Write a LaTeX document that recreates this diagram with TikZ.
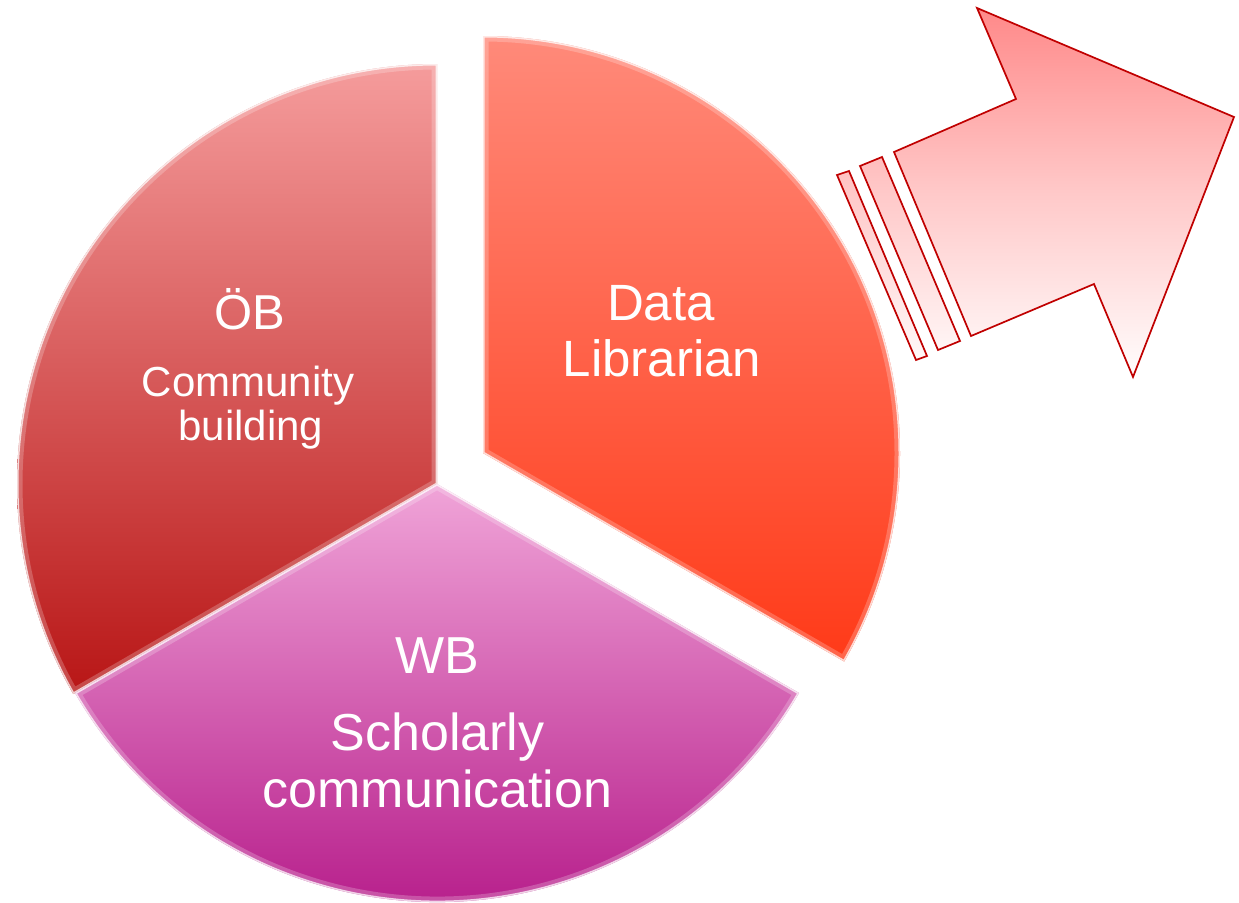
\documentclass[tikz,border=0pt]{standalone}
\usepackage{fontspec}
\setmainfont{Liberation Sans}
\definecolor{obTop}{HTML}{F59C9C}
\definecolor{obBot}{HTML}{B81616}
\definecolor{wbTop}{HTML}{F0A4D8}
\definecolor{wbBot}{HTML}{B00E82}
\definecolor{dlTop}{HTML}{FF8A7A}
\definecolor{dlBot}{HTML}{FF3A18}
\definecolor{arrTop}{HTML}{FF8686}
\definecolor{arrLine}{HTML}{C00000}
\begin{document}
\begin{tikzpicture}[x=1pt,y=-1pt,
  lbl/.style={text=white, anchor=base, inner sep=0pt},
  glowwide/.style={draw=white, opacity=0.22, line width=11pt},
  glowthin/.style={draw=white, opacity=0.75, line width=3pt},
  shadowfill/.style={fill=black, opacity=0.10},
  arrowline/.style={draw=arrLine, line width=1.7pt, line join=miter},
]
\useasboundingbox (0,0) rectangle (1239,902);
\coordinate (C) at (437,484);
\coordinate (D) at (483,453);
\def\pOB{(C) -- ([shift={(-90:420)}]C) arc[start angle=-90,end angle=-210,radius=420] -- cycle}
\def\pWB{(C) -- ([shift={(150:418)}]C) arc[start angle=150,end angle=30,radius=418] -- cycle}
\def\pDL{(D) -- ([shift={(-90:417)}]D) arc[start angle=-90,end angle=30,radius=417] -- cycle}

% shadows
\begin{scope}[shift={(3,4)}]
  \fill[shadowfill] \pOB;
  \fill[shadowfill] \pWB;
  \fill[shadowfill] \pDL;
\end{scope}

% segments
\shade[top color=obTop, bottom color=obBot] \pOB;
\begin{scope}\clip \pOB; \draw[glowwide] \pOB; \draw[glowthin] \pOB; \end{scope}
\shade[top color=wbTop, bottom color=wbBot] \pWB;
\begin{scope}\clip \pWB; \draw[glowwide] \pWB; \draw[glowthin] \pWB; \end{scope}
\shade[top color=dlTop, bottom color=dlBot] \pDL;
\begin{scope}\clip \pDL; \draw[glowwide] \pDL; \draw[glowthin] \pDL; \end{scope}

% labels
\node[lbl, font=\fontsize{49}{54}\selectfont] (ob) at (250,329) {ÖB};
\node[lbl, font=\fontsize{42}{46}\selectfont] (cb1) at (248,396) {Community};
\node[lbl, font=\fontsize{42}{46}\selectfont] (cb2) at (251,440) {building};
\node[lbl, font=\fontsize{51}{56}\selectfont] (dl1) at (661,320) {Data};
\node[lbl, font=\fontsize{51}{56}\selectfont] (dl2) at (662,376) {Librarian};
\node[lbl, font=\fontsize{52}{57}\selectfont] (wb) at (437,673) {WB};
\node[lbl, font=\fontsize{52}{57}\selectfont] (sc1) at (437.5,750) {Scholarly};
\node[lbl, font=\fontsize{52}{57}\selectfont] (sc2) at (437.5,807) {communication};

% striped arrow
\def\pArrow{(894,152) -- (1016,99) -- (977,8) -- (1234,117) -- (1133,377) -- (1094,284) -- (971,336) -- cycle}
\def\pStripeA{(860,166) -- (882,157) -- (960,341) -- (938,350) -- cycle}
\def\pStripeB{(837,175) -- (849,171) -- (927,356) -- (916,360) -- cycle}
\begin{scope}
  \clip \pArrow \pStripeA \pStripeB;
  \shade[top color=arrTop, bottom color=white, middle color=arrTop!45!white] (830,0) rectangle (1239,385);
\end{scope}
\draw[arrowline] \pArrow;
\draw[arrowline] \pStripeA;
\draw[arrowline] \pStripeB;
\end{tikzpicture}
\end{document}
